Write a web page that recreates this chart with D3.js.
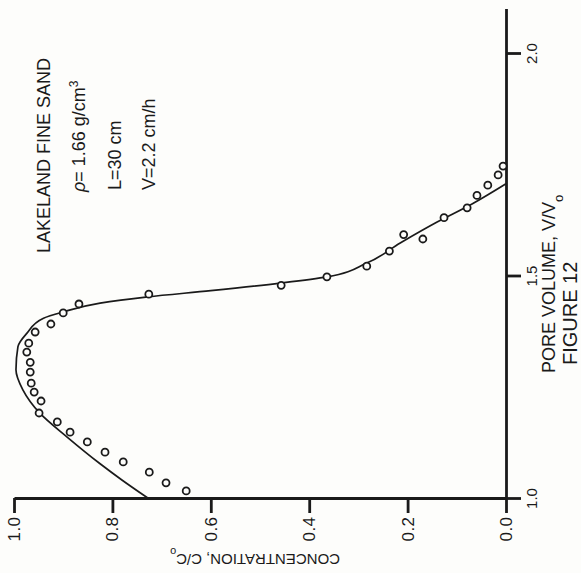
<!DOCTYPE html>
<html>
<head>
<meta charset="utf-8">
<script src="https://cdn.jsdelivr.net/npm/d3@7"></script>
<style>
html,body{margin:0;padding:0;background:#fdfdfb;}
svg{display:block;}
text{font-family:"Liberation Sans","Helvetica",Arial,sans-serif;fill:#1a1a1a;}
</style>
</head>
<body>
<svg id="chart" width="581" height="573"></svg>
<script>
// ---- data ----
const concTicks = [1.0, 0.8, 0.6, 0.4, 0.2, 0.0];
const concTickLabels = ["1.0", "0.8", "0.6", "0.4", "0.2", "0.0"];
const pvTicks = [1.0, 1.5, 2.0];
const pvTickLabels = ["1.0", "1.5", "2.0"];

// observed points: pore volume and relative concentration
const obsPV = [1.016, 1.034, 1.058, 1.081, 1.103, 1.126, 1.148, 1.171, 1.191, 1.218,
               1.238, 1.258, 1.283, 1.305, 1.328, 1.348, 1.373, 1.391, 1.416, 1.436,
               1.458, 1.478, 1.497, 1.521, 1.555, 1.592, 1.582, 1.630, 1.652, 1.680,
               1.703, 1.726, 1.746];
const obsC  = [0.650, 0.691, 0.725, 0.778, 0.815, 0.851, 0.886, 0.912, 0.949, 0.945,
               0.959, 0.965, 0.967, 0.967, 0.974, 0.970, 0.957, 0.925, 0.900, 0.868,
               0.726, 0.457, 0.364, 0.283, 0.237, 0.208, 0.169, 0.126, 0.079, 0.059,
               0.037, 0.016, 0.006];

// computed curve
const curvePV = [1.000, 1.040, 1.077, 1.137, 1.190, 1.243, 1.288, 1.340, 1.370, 1.404,
                 1.418, 1.438, 1.452, 1.466, 1.483, 1.497, 1.528, 1.573, 1.620, 1.660, 1.706];
const curveC  = [0.728, 0.780, 0.825, 0.892, 0.947, 0.982, 0.996, 0.992, 0.974, 0.940,
                 0.900, 0.825, 0.728, 0.600, 0.459, 0.364, 0.283, 0.215, 0.140, 0.070, 0.000];

// ---- drawing ----
const svg = d3.select("#chart");
const ink = "#1a1a1a";
const font = '"Liberation Sans",Arial,sans-serif';

// concentration runs horizontally (1.0 at left, 0.0 at right)
const x = d3.scaleLinear().domain([1, 0]).range([14, 506]);
// pore volume runs vertically (1.0 at bottom, up to ~2.1 at top)
const y = d3.scaleLinear().domain([1, 2.1]).range([498, 8.5]);

// concentration axis (horizontal)
const gx = svg.append("g").attr("transform", `translate(0,${y(1)})`)
  .call(d3.axisBottom(x).tickValues(concTicks).tickSize(15).tickSizeOuter(0).tickFormat((d,i)=>concTickLabels[i]));
gx.select(".domain").attr("stroke", ink).attr("stroke-width", 2.8);
gx.selectAll(".tick line").attr("stroke", ink).attr("stroke-width", 2.8);
gx.selectAll(".tick text")
  .attr("y", 0).attr("dy", null)
  .attr("transform", "translate(0,31) rotate(-90)")
  .attr("text-anchor", "middle").attr("dominant-baseline", "central")
  .style("font-size", "17px").style("letter-spacing", "0.5px").style("font-family", font).attr("fill", ink);

// pore volume axis (vertical, on right)
const gy = svg.append("g").attr("transform", `translate(${x(0)},0)`)
  .call(d3.axisRight(y).tickValues(pvTicks).tickSize(15).tickSizeOuter(0).tickFormat((d,i)=>pvTickLabels[i]));
gy.select(".domain").attr("stroke", ink).attr("stroke-width", 2.8);
gy.selectAll(".tick line").attr("stroke", ink).attr("stroke-width", 2.8);
gy.selectAll(".tick text")
  .attr("x", 0).attr("dy", null)
  .attr("transform", "translate(25,0) rotate(-90)")
  .attr("text-anchor", "middle").attr("dominant-baseline", "central")
  .style("font-size", "15px").style("font-family", font).attr("fill", ink);

// curve
const curveData = curvePV.map((p,i)=>({pv:p, c:curveC[i]}));
svg.append("path").datum(curveData)
  .attr("fill", "none").attr("stroke", ink).attr("stroke-width", 1.7)
  .attr("d", d3.line().x(d=>x(d.c)).y(d=>y(d.pv)).curve(d3.curveMonotoneY));

// observed points
const obs = obsPV.map((p,i)=>({pv:p, c:obsC[i]}));
svg.append("g").selectAll("circle").data(obs).join("circle")
  .attr("cx", d=>x(d.c)).attr("cy", d=>y(d.pv)).attr("r", 3.5)
  .attr("fill", "#fdfdfb").attr("stroke", ink).attr("stroke-width", 1.8);

// axis titles
const ct = svg.append("text").attr("transform", "translate(255,554) rotate(180)")
  .attr("text-anchor", "middle").style("font-size", "15px");
ct.append("tspan").text("CONCENTRATION, C/C");
ct.append("tspan").attr("baseline-shift", "sub").style("font-size", "11px").text("o");

const pt = svg.append("text").attr("transform", "translate(555,373) rotate(-90)")
  .attr("text-anchor", "start").style("font-size", "18px");
pt.append("tspan").text("PORE VOLUME, V/V");
pt.append("tspan").attr("baseline-shift", "sub").style("font-size", "13px").text("o");

svg.append("text").attr("transform", "translate(577,365) rotate(-90)")
  .attr("text-anchor", "start").style("font-size", "20px").text("FIGURE 12");

// annotation block
svg.append("text").attr("transform", "translate(50,253) rotate(-90)")
  .style("font-size", "18px").text("LAKELAND  FINE  SAND");
const rho = svg.append("text").attr("transform", "translate(85,192) rotate(-90)").style("font-size", "18px");
rho.append("tspan").style("font-style", "italic").text("ρ");
rho.append("tspan").text("= 1.66 g/cm");
rho.append("tspan").attr("baseline-shift", "super").style("font-size", "12px").text("3");
svg.append("text").attr("transform", "translate(121,190) rotate(-90)").style("font-size", "18px").text("L=30 cm");
svg.append("text").attr("transform", "translate(155,190) rotate(-90)").style("font-size", "18px").text("V=2.2 cm/h");
</script>
</body>
</html>
